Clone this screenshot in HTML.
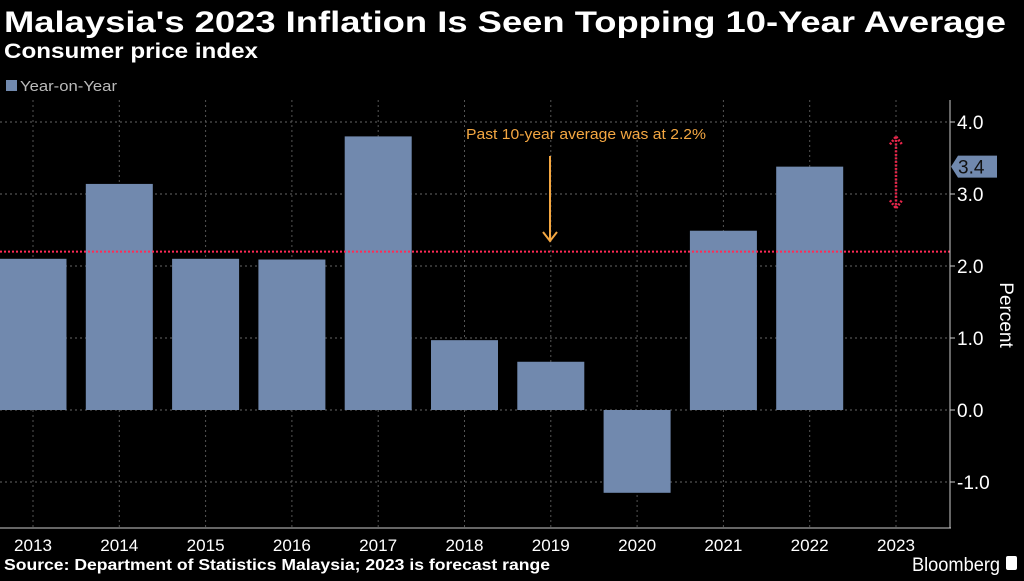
<!DOCTYPE html>
<html><head><meta charset="utf-8"><style>
body{margin:0;background:#000;width:1024px;height:576px;overflow:hidden;font-family:"Liberation Sans",sans-serif;color:#fff}
</style></head><body>
<svg id="c" width="1024" height="576" xmlns="http://www.w3.org/2000/svg">
<text x="4" y="32" font-size="30" font-weight="bold" fill="#fff" textLength="1002" lengthAdjust="spacingAndGlyphs">Malaysia's 2023 Inflation Is Seen Topping 10-Year Average</text>
<text x="4" y="58" font-size="21" font-weight="bold" fill="#fff" textLength="254" lengthAdjust="spacingAndGlyphs">Consumer price index</text>
<rect x="6" y="80" width="11" height="11" fill="#7189ae"/>
<text x="20" y="91" font-size="15" fill="#bbb" textLength="97" lengthAdjust="spacingAndGlyphs">Year-on-Year</text>
<g id="grid"></g><g id="bars"></g><g id="axes"></g>
<text x="466" y="139" font-size="15" fill="#f4a742" textLength="240" lengthAdjust="spacingAndGlyphs">Past 10-year average was at 2.2%</text>
<line x1="550" y1="156" x2="550" y2="240" stroke="#f4a742" stroke-width="2"/>
<path d="M543 232 L550 241 L557 232" fill="none" stroke="#f4a742" stroke-width="2"/>
<text x="4" y="570" font-size="16" font-weight="bold" fill="#fff" textLength="546" lengthAdjust="spacingAndGlyphs">Source: Department of Statistics Malaysia; 2023 is forecast range</text>
<text x="1000" y="571" font-size="19" fill="#fff" text-anchor="end" textLength="88" lengthAdjust="spacingAndGlyphs">Bloomberg</text>
<rect x="1006" y="556" width="11" height="14" rx="2" fill="#fff"/>
<text transform="translate(1000,315) rotate(90)" font-size="19" fill="#fff" text-anchor="middle">Percent</text>
</svg>
<script>
const years=["2013","2014","2015","2016","2017","2018","2019","2020","2021","2022","2023"];
const values=[2.1,3.14,2.1,2.09,3.8,0.97,0.67,-1.15,2.49,3.38];
const yTicks=[-1,0,1,2,3,4];
const avg=[2.2];
const forecastRange=[2.8,3.8];
const lastLabel=["3.4"];
const NS="http://www.w3.org/2000/svg";
const X=i=>33+i*86.3, Y=v=>410-v*72;
function mk(p,t,a){const e=document.createElementNS(NS,t);for(const k in a)e.setAttribute(k,a[k]);document.getElementById(p).appendChild(e);return e;}
yTicks.forEach(v=>{
 let l=mk('grid','line',{x1:0,x2:950,y1:Y(v),y2:Y(v),stroke:'#666','stroke-dasharray':'2,3'});
 
 
 let t=mk('axes','text',{x:957,y:Y(v)+7,'font-size':19,fill:'#fff'});t.textContent=v.toFixed(1);
 
 
 let tk=mk('axes','line',{x1:950,x2:955,y1:Y(v),y2:Y(v),stroke:'#ccc'});
 
 
});
years.forEach((y,i)=>{
 let l=mk('grid','line',{x1:X(i),x2:X(i),y1:100,y2:528,stroke:'#555','stroke-dasharray':'2,3'});
 
 
 let t=mk('axes','text',{x:X(i),y:551,'font-size':17,fill:'#fff','text-anchor':'middle',textLength:38,lengthAdjust:'spacingAndGlyphs'});t.textContent=y;
 
 
});
values.forEach((v,i)=>{
 let r=mk('bars','rect',{x:X(i)-33.5,width:67,y:Math.min(Y(v),Y(0)),height:Math.abs(Y(v)-Y(0)),fill:'#7189ae'});
 
 
});
let al=mk('axes','line',{x1:0,x2:950,y1:Y(avg[0]),y2:Y(avg[0]),stroke:'#ff2a55','stroke-width':2,'stroke-dasharray':'2,2'});


let ax=mk('axes','line',{x1:0,x2:951,y1:528,y2:528,stroke:'#ccc'});


let ay=mk('axes','line',{x1:950,x2:950,y1:100,y2:528,stroke:'#ccc'});


const fx=X(10),fy1=Y(forecastRange[1]),fy0=Y(forecastRange[0]);
let fr=mk('axes','path',{d:`M${fx} ${fy1} L${fx} ${fy0} M${fx-6} ${fy1+8} L${fx} ${fy1} L${fx+6} ${fy1+8} M${fx-6} ${fy0-8} L${fx} ${fy0} L${fx+6} ${fy0-8}`,stroke:'#e8254a','stroke-width':2.5,'stroke-dasharray':'2,1.5',fill:'none'});


const ly=Y(values[9]);
let lb=mk('axes','path',{d:`M951 ${ly} L958 ${ly-11} L997 ${ly-11} L997 ${ly+11} L958 ${ly+11} Z`,fill:'#7189ae'});


let lt=mk('axes','text',{x:958,y:ly+7,'font-size':19,fill:'#111'});lt.textContent=lastLabel[0];


</script>
</body></html>
